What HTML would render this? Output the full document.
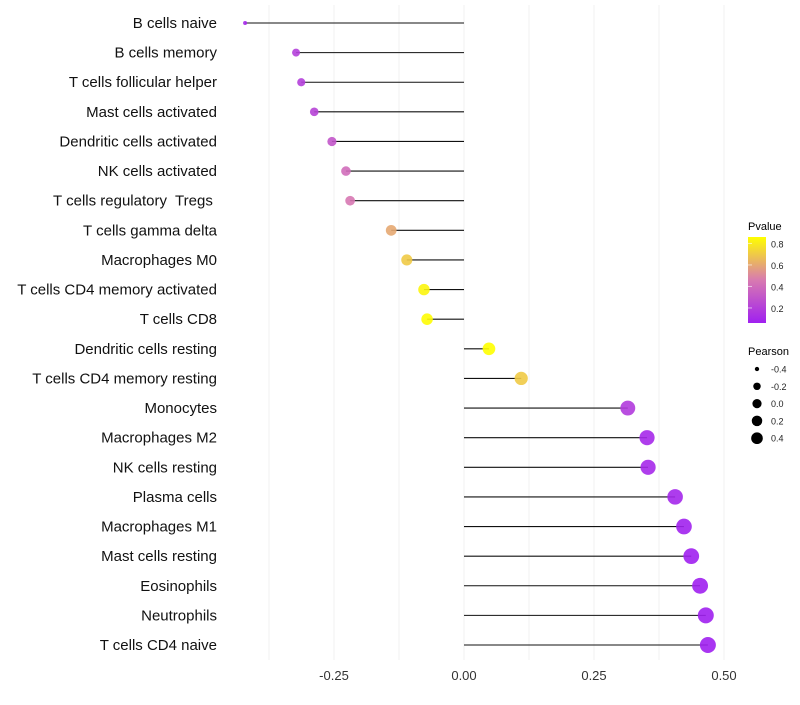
<!DOCTYPE html>
<html><head><meta charset="utf-8"><style>
body{margin:0;background:#fff;font-family:"Liberation Sans",sans-serif}
text{white-space:pre}
</style></head><body>
<svg id="chart" width="800" height="700" xmlns="http://www.w3.org/2000/svg" font-family="Liberation Sans, sans-serif">
<g id="grid"></g><g id="marks"></g><g id="labels"></g><g id="xaxis"></g>
<g id="legend">
<defs><linearGradient id="pg" x1="0" y1="1" x2="0" y2="0">
<stop offset="0" stop-color="#a020f0"/><stop offset="0.5" stop-color="#d87ab0"/><stop offset="1" stop-color="#ffff00"/></linearGradient></defs>
<text x="748" y="230" font-size="11" fill="#000">Pvalue</text>
<rect x="748" y="237" width="18" height="86" fill="url(#pg)"/>
<g id="ptick"></g>
<text x="748" y="355" font-size="11" fill="#000">Pearson</text>
<g id="stick"></g>
</g>
</svg>
<script>
const categories=["B cells naive","B cells memory","T cells follicular helper","Mast cells activated","Dendritic cells activated","NK cells activated","T cells regulatory  Tregs ","T cells gamma delta","Macrophages M0","T cells CD4 memory activated","T cells CD8","Dendritic cells resting","T cells CD4 memory resting","Monocytes","Macrophages M2","NK cells resting","Plasma cells","Macrophages M1","Mast cells resting","Eosinophils","Neutrophils","T cells CD4 naive"];
const pearson=[-0.421,-0.323,-0.313,-0.288,-0.254,-0.227,-0.219,-0.140,-0.110,-0.077,-0.071,0.048,0.110,0.315,0.352,0.354,0.406,0.423,0.437,0.454,0.465,0.469];
const pvalue=[0.10,0.20,0.20,0.22,0.30,0.40,0.45,0.60,0.70,0.83,0.85,0.86,0.70,0.18,0.10,0.10,0.09,0.07,0.06,0.06,0.06,0.06];
const xTicks=[-0.25,0,0.25,0.5];
const xTickLabels=["-0.25","0.00","0.25","0.50"];
const pTicks=[0.2,0.4,0.6,0.8];
const sTicks=[-0.4,-0.2,0.0,0.2,0.4];
const sTickLabels=["-0.4","-0.2","0.0","0.2","0.4"];
const NS="http://www.w3.org/2000/svg";
const x=v=>464+v*520;
const y=i=>23+i*(645-23)/(categories.length-1);
const r=v=>2+6*Math.sqrt(Math.max(0,(v+0.42)/0.89));
const pY=p=>237+(0.86-p)/0.8*86;
function hx(h){return [parseInt(h.slice(1,3),16),parseInt(h.slice(3,5),16),parseInt(h.slice(5,7),16)]}
function col(p){const t=Math.max(0,Math.min(1,(p-0.06)/0.8));let a,b,u;
if(t<0.5){a=hx("#a020f0");b=hx("#d87ab0");u=t/0.5}else{a=hx("#d87ab0");b=hx("#ffff00");u=(t-0.5)/0.5}
return "rgb("+a.map((c,k)=>Math.round(c+(b[k]-c)*u)).join(",")+")"}
function mk(tag,at,parent){const e=document.createElementNS(NS,tag);for(const k in at)e.setAttribute(k,at[k]);document.getElementById(parent).appendChild(e);return e}
for(let v=-0.375;v<=0.5;v+=0.125){const g=mk("line",{x1:x(v),x2:x(v),y1:5,y2:660,stroke:"#f2f2f2","stroke-width":1},"grid");

}
categories.forEach((c,i)=>{
const l=mk("line",{x1:x(0),x2:x(pearson[i]),y1:y(i),y2:y(i),stroke:"#111","stroke-width":1.1},"marks");


const p=mk("circle",{cx:x(pearson[i]),cy:y(i),r:r(pearson[i]),fill:col(pvalue[i]),"fill-opacity":0.9},"marks");


const t=mk("text",{x:217,y:y(i)+5,"text-anchor":"end","font-size":15,fill:"#111"},"labels");t.textContent=c;


});
xTicks.forEach((v,i)=>{const t=mk("text",{x:x(v),y:680,"text-anchor":"middle","font-size":13,fill:"#333"},"xaxis");t.textContent=xTickLabels[i];

});
pTicks.forEach(p=>{const t=mk("text",{x:771,y:pY(p)+4,"font-size":9,fill:"#222"},"ptick");t.textContent=p.toFixed(1);


const l=mk("line",{x1:748,x2:752,y1:pY(p),y2:pY(p),stroke:"#fff","stroke-opacity":0.6},"ptick");

});
sTicks.forEach((v,i)=>{const cy=369+i*17.3;
const c=mk("circle",{cx:757,cy:cy,r:r(v)*0.75,fill:"#000"},"stick");


const t=mk("text",{x:771,y:cy+3.5,"font-size":9,fill:"#222"},"stick");t.textContent=sTickLabels[i];

});
</script>
</body></html>
